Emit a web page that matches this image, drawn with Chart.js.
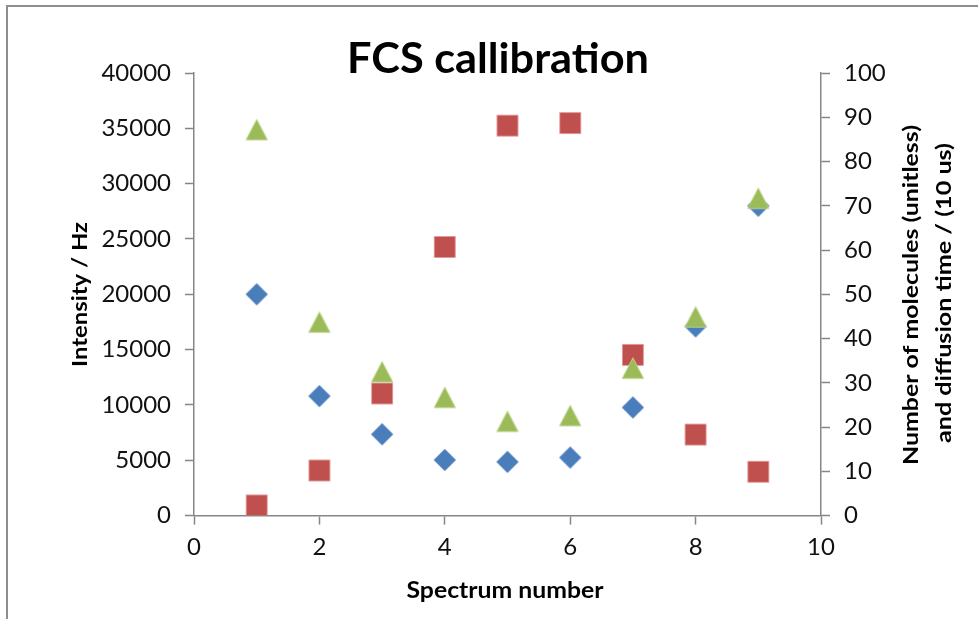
<!DOCTYPE html>
<html>
<head>
<meta charset="utf-8">
<script src="https://cdn.jsdelivr.net/npm/chart.js@4.4.0/dist/chart.umd.min.js"></script>
<style>
  html, body { margin: 0; padding: 0; background: #fff; }
  #wrap { position: relative; width: 978px; height: 619px; overflow: hidden; }
  #frame {
    position: absolute; left: 6px; top: 5px; width: 1000px; height: 700px;
    border-left: 2.5px solid #8e8e8e; border-top: 2.5px solid #8e8e8e;
    box-sizing: border-box; pointer-events: none;
  }
  canvas { position: absolute; left: 0; top: 0; }
</style>
</head>
<body>
<div id="wrap">
  <canvas id="fcsChart" width="978" height="619"></canvas>
  <div id="frame"></div>
</div>
<script>
// Spectrum numbers and measured values
const spectrum = [1, 2, 3, 4, 5, 6, 7, 8, 9];
const intensity = [20000, 10800, 7350, 5030, 4850, 5250, 9770, 17100, 28000];
const molecules = [2.3, 10.2, 27.6, 60.7, 88.1, 88.7, 36.3, 18.3, 9.9];
const diffusionTime = [87.2, 43.7, 32.5, 26.7, 21.3, 22.6, 33.3, 44.9, 71.7];

// Axis ticks
const xTicks = [0, 2, 4, 6, 8, 10];
const leftTicks = [0, 5000, 10000, 15000, 20000, 25000, 30000, 35000, 40000];
const rightTicks = [0, 10, 20, 30, 40, 50, 60, 70, 80, 90, 100];

const FONT = "Lato, 'Open Sans', sans-serif";
const AXIS_GRAY = "#868686";

// Build marker sprites (drawn centered on each point)
function makeMarker(shape, fill, edge) {
  const c = document.createElement("canvas");
  c.width = 24;
  c.height = 24;
  const g = c.getContext("2d");
  g.beginPath();
  if (shape === "diamond") {
    g.moveTo(12, 1); g.lineTo(23, 12); g.lineTo(12, 23); g.lineTo(1, 12);
  } else if (shape === "square") {
    g.rect(1.5, 1.5, 21, 21);
  } else {
    g.moveTo(12, 1.5); g.lineTo(22.8, 22.3); g.lineTo(1.2, 22.3);
  }
  g.closePath();
  g.fillStyle = fill;
  g.fill();
  g.lineWidth = 1;
  g.strokeStyle = edge;
  g.stroke();
  return c;
}

const diamond = makeMarker("diamond", "#4a7ebb", "rgba(140,170,215,0.8)");
const square = makeMarker("square", "#c0504d", "rgba(225,150,150,0.8)");
const triangle = makeMarker("triangle", "#9bbb59", "rgba(200,220,160,0.8)");

function pairs(values) {
  return spectrum.map((x, i) => ({ x: x, y: values[i] }));
}

// Draw text stretched to a given length, optionally rotated
function fitText(ctx, text, x, y, length, font, angle) {
  ctx.save();
  ctx.font = font;
  ctx.translate(x, y);
  ctx.rotate(angle || 0);
  const w = ctx.measureText(text).width;
  ctx.scale(length / w, 1);
  ctx.fillStyle = "#000";
  ctx.textAlign = "center";
  ctx.textBaseline = "alphabetic";
  ctx.fillText(text, 0, 0);
  ctx.restore();
}

const titlesPlugin = {
  id: "titles",
  afterDraw(chart) {
    const ctx = chart.ctx;
    fitText(ctx, "FCS callibration", 498, 73, 302, "bold 42px " + FONT);
    fitText(ctx, "Spectrum number", 505, 598, 197, "bold 22px " + FONT);
    fitText(ctx, "Intensity / Hz", 87, 294.5, 145, "bold 21px " + FONT, -Math.PI / 2);
    fitText(ctx, "Number of molecules (unitless)", 918, 295, 340, "bold 21px " + FONT, -Math.PI / 2);
    fitText(ctx, "and diffusion time / (10 us)", 951, 293, 300, "bold 21px " + FONT, -Math.PI / 2);
  }
};

function axisOptions(position, ticks, pad, extra) {
  return Object.assign({
    type: "linear",
    position: position,
    min: ticks[0],
    max: ticks[ticks.length - 1],
    afterBuildTicks: (scale) => {
      scale.ticks = ticks.map((v) => ({ value: v }));
    },
    grid: {
      drawOnChartArea: false,
      drawTicks: true,
      tickLength: 9,
      tickColor: AXIS_GRAY,
      tickWidth: 1.5,
    },
    border: { display: true, color: AXIS_GRAY, width: 1.5 },
    ticks: {
      color: "#111",
      font: { family: FONT, size: 24 },
      padding: pad,
      callback: (v) => String(v),
    },
  }, extra);
}

new Chart(document.getElementById("fcsChart"), {
  type: "scatter",
  data: {
    datasets: [
      {
        label: "Intensity",
        data: pairs(intensity),
        yAxisID: "y",
        pointStyle: diamond,
        pointRadius: 11,
        order: 2,
      },
      {
        label: "Number of molecules",
        data: pairs(molecules),
        yAxisID: "y2",
        pointStyle: square,
        pointRadius: 11,
        order: 1,
      },
      {
        label: "Diffusion time",
        data: pairs(diffusionTime),
        yAxisID: "y2",
        pointStyle: triangle,
        pointRadius: 11,
        order: 0,
      },
    ],
  },
  options: {
    responsive: false,
    animation: false,
    layout: { padding: { top: 73, left: 0, right: 0, bottom: 0 } },
    plugins: {
      legend: { display: false },
      tooltip: { enabled: false },
      title: { display: false },
    },
    scales: {
      x: axisOptions("bottom", xTicks, 8, {
        afterFit: (scale) => { scale.height = 103.4; },
      }),
      y: axisOptions("left", leftTicks, 14, {
        afterFit: (scale) => { scale.width = 194; },
      }),
      y2: axisOptions("right", rightTicks, 14, {
        afterFit: (scale) => { scale.width = 157; },
      }),
    },
  },
  plugins: [titlesPlugin],
});
</script>
</body>
</html>
